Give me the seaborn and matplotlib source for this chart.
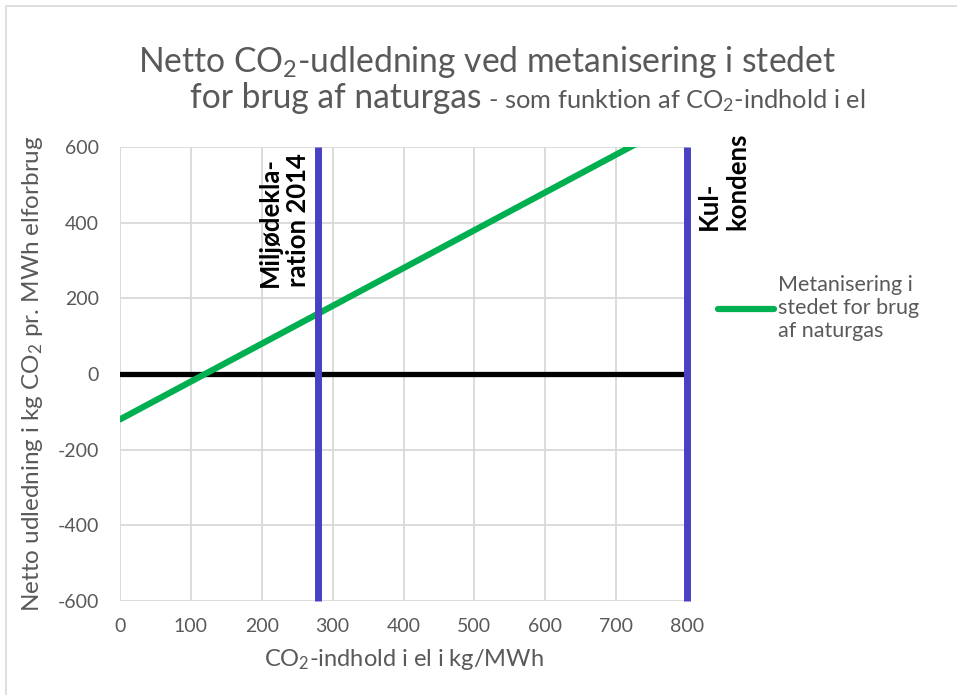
import numpy as np
import pandas as pd
import matplotlib
matplotlib.use("Agg")
import matplotlib.pyplot as plt
import matplotlib.patches as mpatches
import seaborn as sns

# ============================
# DATA
# ============================
co2_el = [0, 800]                 # kg/MWh
netto = [-120, 680]               # netto udledning (kg CO2 pr. MWh)
nul_x = [0, 800]
nul_y = [0, 0]
milj_x = [280, 280]
kul_x = [800, 800]
lodret_y = [-600, 600]

x_ticks = [0, 100, 200, 300, 400, 500, 600, 700, 800]
y_ticks = [-600, -400, -200, 0, 200, 400, 600]

serie_navn = "Metanisering i\nstedet for brug\naf naturgas"
label_milj = "Miljødekla-\nration 2014"
label_kul = "Kul-\nkondens"

GRAA = "#595959"
GROEN = "#00B050"
BLAA = "#4A40C3"

# ============================
# STIL
# ============================
sns.set_style("white")
plt.rcParams['font.family'] = ['Lato', 'DejaVu Sans']
plt.rcParams['mathtext.default'] = 'regular'
plt.rcParams['axes.unicode_minus'] = False

W, H = 957, 695
fig = plt.figure(figsize=(W / 100, H / 100), dpi=100)
ax = fig.add_axes([120 / W, 1 - 601 / H, (687 - 120) / W, (601 - 147) / H])

df_groen = pd.DataFrame({"x": co2_el, "y": netto})
sns.lineplot(data=df_groen, x="x", y="y", ax=ax, color=GROEN, lw=4.5, zorder=3)
sns.lineplot(x=nul_x, y=nul_y, ax=ax, color="black", lw=3.8, zorder=2)
for lx in (milj_x, kul_x):
    sns.lineplot(x=lx, y=lodret_y, ax=ax, color=BLAA, lw=5, zorder=4, orient="y")
for ln in ax.lines[2:]:
    ln.set_clip_on(False)
    ln.set_solid_capstyle("butt")

ax.set_xlim(0, 800)
ax.set_ylim(-600, 600)
ax.set_xticks(x_ticks)
ax.set_yticks(y_ticks)
ax.grid(True, color="#D9D9D9", lw=1.3)
ax.set_axisbelow(True)
for s in ax.spines.values():
    s.set_visible(False)
ax.tick_params(axis="both", length=0, labelsize=14, labelcolor=GRAA)
ax.tick_params(axis="x", pad=12)
ax.tick_params(axis="y", pad=15)

ax.set_xlabel("CO$_2$-indhold i el i kg/MWh", fontsize=17, color=GRAA, labelpad=9)
ax.set_ylabel("Netto udledning i kg CO$_2$ pr. MWh elforbrug", fontsize=17.5, color=GRAA, labelpad=9)

# lodrette etiketter (placeres i pixels ud fra referencen)
fig.text(310 / W, 1 - 153 / H, label_milj, rotation=90, ha="right", va="top",
         fontsize=18.5, fontweight="bold", color="black", linespacing=1.2,
         multialignment="left")
fig.text(697 / W, 1 - 133 / H, label_kul, rotation=90, ha="left", va="top",
         fontsize=18.5, fontweight="bold", color="black", linespacing=1.2,
         multialignment="left")

# legende
ax.legend(handles=[plt.Line2D([0], [0], color=GROEN, lw=4.5)], labels=[serie_navn],
          loc="upper left", bbox_to_anchor=(718 / W, 1 - 275 / H),
          bbox_transform=fig.transFigure, frameon=False, fontsize=15.5,
          handlelength=2.6, handletextpad=0.2, borderaxespad=0, borderpad=0,
          labelcolor=GRAA, labelspacing=0.2)

# titel
fig.text(487 / W, 1 - 72 / H, "Netto CO$_2$-udledning ved metanisering i stedet",
         ha="center", va="baseline", fontsize=24.2, color=GRAA)
t1 = fig.text(190 / W, 1 - 108 / H, "for brug af naturgas", ha="left", va="baseline",
              fontsize=24.2, color=GRAA)
r = fig.canvas.get_renderer()
bb = t1.get_window_extent(renderer=r)
fig.text(bb.x1 / fig.bbox.width, 1 - 108 / H, " - som funktion af CO$_2$-indhold i el",
         ha="left", va="baseline", fontsize=18.3, color=GRAA)

# ramme om diagrammet
fig.patches.append(mpatches.Rectangle((6 / W, -0.05), 1.1, 0.05 + 1 - 6 / H,
                                      transform=fig.transFigure, fill=False,
                                      edgecolor="#D9D9D9", lw=1.2))

fig.savefig("out.png", dpi=100)
